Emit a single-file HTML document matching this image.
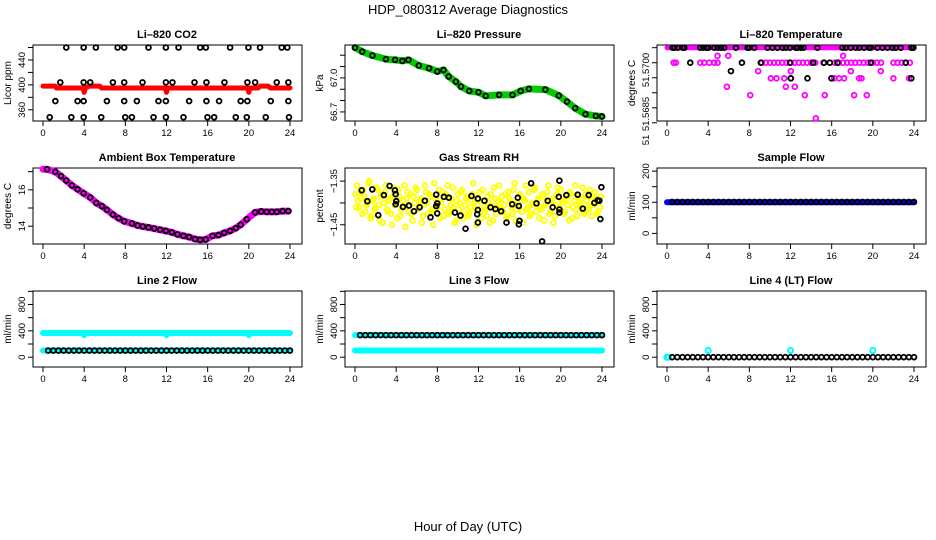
<!DOCTYPE html>
<html><head><meta charset="utf-8">
<style>
html,body{margin:0;padding:0;background:#fff;}
svg{display:block;font-family:"Liberation Sans",Arial,sans-serif;}
</style></head>
<body>
<svg id="chart" width="936" height="540" viewBox="0 0 936 540">
<text x="468" y="14" text-anchor="middle" font-size="13">HDP_080312  Average Diagnostics</text>
<text x="468" y="531" text-anchor="middle" font-size="13">Hour of Day (UTC)</text>
</svg>
<script>
// ---------- DATA ----------
const xTicks = [0,4,8,12,16,20,24];
// CO2
const co2BandHours = [0,1.2,1.3,3.9,4.0,4.1,4.5,5.5,5.7,11.9,12.0,12.1,19.9,20.0,20.1,20.9,21.1,21.9,22.1,24];
const co2BandVals  = [398,398,395,395,388,395,398,398,395,395,388,395,395,388,395,395,398,398,395,395];
const co2Hours = [2.26,3.95,5.14,7.25,7.89,10.25,11.94,13.17,15.27,15.82,18.18,19.96,21.09,23.19,23.74,
 1.68,3.95,4.59,6.79,7.89,9.67,11.94,12.58,14.72,15.88,17.63,19.86,20.61,22.71,23.84,
 1.2,3.36,3.95,6.21,7.89,9.12,11.22,11.94,14.2,15.88,17.11,19.21,19.86,22.13,23.84,
 0.65,2.75,3.95,5.66,7.99,8.64,10.74,11.94,13.65,15.98,16.63,18.73,19.8,21.64,23.9];
const co2Vals = [460,460,460,460,460,460,460,460,460,460,460,460,460,460,460,
 404,404,404,404,404,404,404,404,404,404,404,404,404,404,404,
 374,374,374,374,374,374,374,374,374,374,374,374,374,374,374,
 348,348,348,348,348,348,348,348,348,348,348,348,348,348,348];
// Pressure
const presHours = [0,0.7,1.7,3.0,3.9,4.6,5.2,6.2,7.2,8.0,8.6,9.1,9.8,10.3,11.1,12.0,12.7,14.0,15.3,16.1,16.9,18.5,19.8,20.6,21.4,22.4,23.4,24.0];
const presVals = [67.267,67.232,67.197,67.165,67.159,67.15,67.159,67.109,67.085,67.056,67.07,67.012,66.967,66.923,66.885,66.873,66.841,66.85,66.85,66.885,66.903,66.897,66.844,66.79,66.733,66.68,66.665,66.66];
// Li-820 temperature
const tempTopBandHours = [0,24];
const tempTopBandVals = [51.5705,51.5705];
const tempMagHours = [0.65,0.87,3.23,3.62,4.11,4.59,4.91,9.2,9.6,10.0,10.4,10.8,11.2,11.6,12.0,12.4,12.8,13.2,13.6,14.0,14.4,15.2,16.3,16.7,17.1,17.5,17.9,18.3,18.7,19.1,19.5,20.0,20.4,20.8,22.0,22.4,22.8,23.2,23.6,
 4.91,5.95,17.11, 8.86,12.03,17.86,20.77, 10.09,10.64,11.39,12.03,16.24,16.72,17.21,18.67,18.9,22.0,23.52, 5.82,11.55,12.42, 8.09,13.39,15.33,18.18,19.41, 14.46];
const tempMagVals = [51.57,51.57,51.57,51.57,51.57,51.57,51.57,51.57,51.57,51.57,51.57,51.57,51.57,51.57,51.57,51.57,51.57,51.57,51.57,51.57,51.57,51.57,51.57,51.57,51.57,51.57,51.57,51.57,51.57,51.57,51.57,51.57,51.57,51.57,51.57,51.57,51.57,51.57,51.57,
 51.57023,51.57023,51.57023, 51.56972,51.56972,51.56972,51.56972, 51.56948,51.56948,51.56948,51.56948,51.56948,51.56948,51.56948,51.56948,51.56948,51.56948,51.56948, 51.5692,51.5692,51.5692, 51.56892,51.56892,51.56892,51.56892,51.56892, 51.56815];
const tempBlkHours = [0.55,0.71,1.04,1.52,1.68,3.23,3.53,3.85,4.01,4.59,4.91,5.24,5.56,6.7,7.83,7.99,8.48,9.77,10.25,10.74,11.22,11.55,11.94,12.52,12.68,13.0,13.26,14.62,17.05,17.37,17.86,18.34,18.67,19.15,19.64,19.8,20.45,20.93,21.42,21.9,22.22,22.71,23.74,23.94,
 2.26,7.28,9.12,11.94,14.2,15.27,15.82,16.56,19.8,23.19, 6.21, 12.03,13.65,15.98,23.74];
const tempBlkVals = [51.5705,51.5705,51.5705,51.5705,51.5705,51.5705,51.5705,51.5705,51.5705,51.5705,51.5705,51.5705,51.5705,51.5705,51.5705,51.5705,51.5705,51.5705,51.5705,51.5705,51.5705,51.5705,51.5705,51.5705,51.5705,51.5705,51.5705,51.5705,51.5705,51.5705,51.5705,51.5705,51.5705,51.5705,51.5705,51.5705,51.5705,51.5705,51.5705,51.5705,51.5705,51.5705,51.5705,51.5705,
 51.57,51.57,51.57,51.57,51.57,51.57,51.57,51.57,51.57,51.57, 51.56972, 51.56948,51.56948,51.56948,51.56948];
// Ambient box temperature
const ambHours = [0,0.39,1.2,1.75,2.26,2.81,3.36,3.95,4.59,5.18,5.73,6.21,6.79,7.34,7.89,8.64,9.19,9.71,10.25,10.8,11.39,11.94,12.52,13.07,13.65,14.2,14.78,15.27,15.82,16.47,17.05,17.6,18.18,18.73,19.21,19.8,20.61,21.19,21.74,22.22,22.71,23.29,23.84];
const ambVals = [17.13,17.13,16.99,16.75,16.51,16.24,16.03,15.81,15.58,15.28,15.10,14.90,14.64,14.44,14.27,14.15,14.04,13.98,13.93,13.87,13.80,13.74,13.66,13.55,13.47,13.40,13.29,13.25,13.27,13.47,13.51,13.63,13.74,13.89,14.08,14.38,14.76,14.81,14.79,14.79,14.79,14.83,14.83];
// Gas stream RH
const rhYellowA = [-1.38,-1.36,-1.41,-1.39,-1.37,-1.42,-1.40,-1.35,-1.43,-1.39,-1.41,-1.37,-1.44,-1.38,-1.40,-1.36,-1.42,-1.39,-1.45,-1.38,-1.40,-1.37,-1.43,-1.41,-1.36,-1.39,-1.42,-1.38,-1.44,-1.40,-1.37,-1.41,-1.39,-1.43,-1.36,-1.40,-1.38,-1.42,-1.45,-1.39,-1.41,-1.37,-1.40,-1.43,-1.38,-1.36,-1.42,-1.39,-1.41,-1.44,-1.38,-1.40,-1.37,-1.42,-1.39,-1.43,-1.41,-1.38,-1.40,-1.45,-1.39,-1.42,-1.37,-1.41,-1.43,-1.40,-1.38,-1.44,-1.39,-1.41,-1.36,-1.40,-1.42,-1.38,-1.43,-1.39,-1.41,-1.37,-1.44,-1.40,-1.38,-1.42,-1.39,-1.36,-1.41,-1.43,-1.40,-1.37,-1.42,-1.39,-1.41,-1.38,-1.44,-1.40,-1.36,-1.42,-1.39,-1.43,-1.38,-1.41,-1.37,-1.40,-1.42,-1.39,-1.44,-1.38,-1.41,-1.36,-1.43,-1.40,-1.39,-1.42,-1.38,-1.41,-1.37,-1.43,-1.40,-1.39,-1.42,-1.41];
const rhYellowB = [-1.41,-1.395,-1.375,-1.425,-1.385,-1.405,-1.355,-1.435,-1.395,-1.415,-1.365,-1.405,-1.385,-1.445,-1.375,-1.415,-1.395,-1.425,-1.365,-1.405,-1.435,-1.385,-1.415,-1.395,-1.455,-1.375,-1.405,-1.425,-1.385,-1.365,-1.415,-1.395,-1.445,-1.405,-1.375,-1.425,-1.385,-1.415,-1.355,-1.405,-1.395,-1.435,-1.375,-1.415,-1.385,-1.425,-1.405,-1.365,-1.445,-1.395,-1.415,-1.375,-1.435,-1.405,-1.385,-1.425,-1.395,-1.355,-1.415,-1.405,-1.375,-1.435,-1.395,-1.415,-1.385,-1.445,-1.405,-1.365,-1.425,-1.395,-1.415,-1.385,-1.405,-1.435,-1.375,-1.395,-1.425,-1.355,-1.415,-1.405,-1.385,-1.445,-1.395,-1.415,-1.375,-1.425,-1.405,-1.365,-1.395,-1.435,-1.415,-1.385,-1.405,-1.375,-1.425,-1.395,-1.445,-1.405,-1.365,-1.415,-1.395,-1.425,-1.385,-1.405,-1.375,-1.435,-1.395,-1.415,-1.385,-1.405,-1.365,-1.425,-1.395,-1.415,-1.385,-1.405,-1.375,-1.425,-1.395,-1.385];
const rhBlkHours = [0.65,1.2,1.68,2.26,2.81,3.36,3.88,3.95,4.01,3.95,4.66,5.24,5.73,6.28,6.79,7.34,7.89,7.99,7.89,7.99,8.64,9.12,9.71,10.25,10.74,11.32,11.94,11.94,11.87,11.94,12.58,13.17,13.65,14.2,14.72,15.27,15.82,15.92,15.98,15.92,17.11,17.63,18.18,18.73,19.21,19.8,19.86,19.86,19.86,20.54,21.64,22.13,22.71,23.26,23.74,23.84,23.94,23.58];
const rhBlkVals = [-1.371,-1.396,-1.369,-1.428,-1.382,-1.361,-1.371,-1.380,-1.396,-1.403,-1.409,-1.406,-1.419,-1.410,-1.395,-1.433,-1.381,-1.401,-1.407,-1.424,-1.386,-1.388,-1.422,-1.429,-1.459,-1.384,-1.390,-1.416,-1.426,-1.445,-1.395,-1.410,-1.414,-1.419,-1.445,-1.403,-1.388,-1.407,-1.441,-1.449,-1.355,-1.401,-1.488,-1.395,-1.410,-1.386,-1.349,-1.415,-1.422,-1.382,-1.381,-1.413,-1.382,-1.400,-1.395,-1.437,-1.364,-1.394];
// Flows
const flowHours = [0.5,1,1.5,2,2.5,3,3.5,4,4.5,5,5.5,6,6.5,7,7.5,8,8.5,9,9.5,10,10.5,11,11.5,12,12.5,13,13.5,14,14.5,15,15.5,16,16.5,17,17.5,18,18.5,19,19.5,20,20.5,21,21.5,22,22.5,23,23.5,24];
const sampleBlk = [101,101,101,101,101,101,101,101,101,101,101,101,101,101,101,101,101,101,101,101,101,101,101,101,101,101,101,101,101,101,101,101,101,101,101,101,101,101,101,101,101,101,101,101,101,101,101,101];
const sampleBandHours = [0,24];
const sampleBandVals = [100,100];
const line2Blk = [100,100,100,100,100,100,100,100,100,100,100,100,100,100,100,100,100,100,100,100,100,100,100,100,100,100,100,100,100,100,100,100,100,100,100,100,100,100,100,100,100,100,100,100,100,100,100,100];
const line2TopHours = [0,3.9,4.0,4.1,11.9,12.0,12.1,19.9,20.0,20.1,24];
const line2TopVals = [368,368,335,368,368,335,368,368,335,368,368];
const line2LowHours = [0,24];
const line2LowVals = [102,102];
const line3Blk = [335,335,335,335,335,335,335,335,335,335,335,335,335,335,335,335,335,335,335,335,335,335,335,335,335,335,335,335,335,335,335,335,335,335,335,335,335,335,335,335,335,335,335,335,335,335,335,335];
const line3TopHours = [0,24];
const line3TopVals = [335,335];
const line3LowHours = [0,24];
const line3LowVals = [102,102];
const line4Blk = [0,0,0,0,0,0,0,0,0,0,0,0,0,0,0,0,0,0,0,0,0,0,0,0,0,0,0,0,0,0,0,0,0,0,0,0,0,0,0,0,0,0,0,0,0,0,0,0];
const line4CyanHours = [0,0.15,4,12,20];
const line4CyanVals = [0,0,102,102,102];

// ---------- DRAWING ----------
const NS = 'http://www.w3.org/2000/svg';
const svg = document.getElementById('chart');
function mk(tag, attrs, parent){
  const e = document.createElementNS(NS, tag);
  for (const k in attrs) e.setAttribute(k, attrs[k]);
  (parent||svg).appendChild(e);
  return e;
}
const COLX = [0,312,624], ROWY = [45,168,291], H = 76;

function panel(col,row,title,ylab,dom,yTicks,yLabels,name){
  const ox = COLX[col], top = ROWY[row], bot = top+H;
  const g = mk('g',{});
  
  
  const xs = h => ox + 43 + h*(247/24);
  const ys = v => bot - (v-dom[0])/(dom[1]-dom[0])*H;
  const box = mk('rect',{x:ox+33,y:top,width:269,height:H,fill:'none',stroke:'#000','stroke-width':1},g);
  
  
  const t = mk('text',{x:ox+167,y:top-7,'text-anchor':'middle','font-size':11,'font-weight':'bold'},g);
  t.textContent = title;
  
  
  const yl = mk('text',{transform:`translate(${ox+11},${(top+bot)/2}) rotate(-90)`,'text-anchor':'middle','font-size':10},g);
  yl.textContent = ylab;
  
  
  xTicks.forEach(v=>{
    mk('line',{x1:xs(v),x2:xs(v),y1:bot,y2:bot+5,stroke:'#000'},g);
    const tl = mk('text',{x:xs(v),y:bot+15,'text-anchor':'middle','font-size':9.5},g);
    tl.textContent = v;
    
    
  });
  yTicks.forEach(v=>{
    mk('line',{x1:ox+28,x2:ox+33,y1:ys(v),y2:ys(v),stroke:'#000'},g);
  });
  yLabels.forEach(l=>{
    const y = l.y!==undefined ? l.y : ys(l.v);
    const tl = mk('text',{transform:`translate(${ox+25},${y}) rotate(-90)`,'text-anchor':'middle','font-size':9.5},g);
    tl.textContent = l.t;
    
    
  });
  const plot = mk('g',{},g);
  return {xs,ys,g:plot};
}
function band(p,hours,vals,color,w,name){
  const pts = hours.map((h,i)=>p.xs(h)+','+p.ys(vals[i])).join(' ');
  const e = mk('polyline',{points:pts,fill:'none',stroke:color,'stroke-width':w,'stroke-linejoin':'round','stroke-linecap':'round'},p.g);
  
  
}
function pts(p,hours,vals,color,name,r,sw){
  hours.forEach((h,i)=>{
    const c = mk('circle',{cx:p.xs(h),cy:p.ys(vals[i]),r:r||2.4,fill:'none',stroke:color,'stroke-width':sw||1.8},p.g);
    
    
  });
}

let p = panel(0,0,'Li\u2013820 CO2','Licor ppm',[342,464],[360,380,400,420,440,460],[{v:360,t:'360'},{v:400,t:'400'},{v:440,t:'440'}],'co2');
band(p,co2BandHours,co2BandVals,'#ff0000',5,'co2-red-band');
pts(p,co2Hours,co2Vals,'#000','co2-point');

p = panel(1,0,'Li\u2013820 Pressure','kPa',[66.62,67.29],[66.7,66.8,66.9,67.0,67.1,67.2],[{v:66.7,t:'66.7'},{v:67.0,t:'67.0'}],'pressure');
band(p,presHours,presVals,'#00cc00',7,'pressure-green-band');
pts(p,presHours,presVals,'#000','pressure-point');

p = panel(2,0,'Li\u2013820 Temperature','degrees C',[51.56806,51.57059],[51.5680,51.5685,51.5690,51.5695,51.5700,51.5705],[{y:70,t:'51.5700'},{y:114,t:'51.5685'},{y:140,t:'51'}],'li820-temp');
band(p,tempTopBandHours,tempTopBandVals,'#ff00ff',5,'temp-magenta-band');
pts(p,tempMagHours,tempMagVals,'#ff00ff','temp-magenta-point');
pts(p,tempBlkHours,tempBlkVals,'#000','temp-black-point');

p = panel(0,1,'Ambient Box Temperature','degrees C',[13.02,17.2],[14,15,16,17],[{v:14,t:'14'},{v:16,t:'16'}],'ambient');
band(p,ambHours,ambVals,'#ff00ff',7,'ambient-magenta-band');
pts(p,ambHours.slice(1),ambVals.slice(1),'#000','ambient-point');

p = panel(1,1,'Gas Stream RH','percent',[-1.494,-1.32],[-1.35,-1.40,-1.45],[{v:-1.35,t:'\u22121.35'},{v:-1.45,t:'\u22121.45'}],'rh');
pts(p,rhYellowA.map((v,i)=>i*0.2),rhYellowA,'#ffff00','rh-yellow-point',2.4,1.8);
pts(p,rhYellowB.map((v,i)=>i*0.2+0.1),rhYellowB,'#ffff00','rh-yellow-point',2.4,1.8);
pts(p,rhBlkHours,rhBlkVals,'#000','rh-black-point');

p = panel(2,1,'Sample Flow','ml/min',[-34,210],[0,50,100,150,200],[{v:0,t:'0'},{v:100,t:'100'},{v:200,t:'200'}],'sample-flow');
band(p,sampleBandHours,sampleBandVals,'#0000ff',6,'sample-blue-band');
pts(p,flowHours,sampleBlk,'#000','sample-point');

const flowDom = [-149,1005], flowTicks=[0,200,400,600,800,1000], flowLabels=[{v:0,t:'0'},{v:400,t:'400'},{v:800,t:'800'}];
p = panel(0,2,'Line 2 Flow','ml/min',flowDom,flowTicks,flowLabels,'line2');
band(p,line2TopHours,line2TopVals,'#00ffff',6,'line2-cyan-top');
band(p,line2LowHours,line2LowVals,'#00ffff',6,'line2-cyan-low');
pts(p,flowHours,line2Blk,'#000','line2-point');
p = panel(1,2,'Line 3 Flow','ml/min',flowDom,flowTicks,flowLabels,'line3');
band(p,line3TopHours,line3TopVals,'#00ffff',6,'line3-cyan-top');
band(p,line3LowHours,line3LowVals,'#00ffff',6,'line3-cyan-low');
pts(p,flowHours,line3Blk,'#000','line3-point');
p = panel(2,2,'Line 4 (LT) Flow','ml/min',flowDom,flowTicks,flowLabels,'line4');
pts(p,line4CyanHours,line4CyanVals,'#00ffff','line4-cyan-point',2.6,2);
pts(p,flowHours,line4Blk,'#000','line4-point');
</script>
</body></html>
